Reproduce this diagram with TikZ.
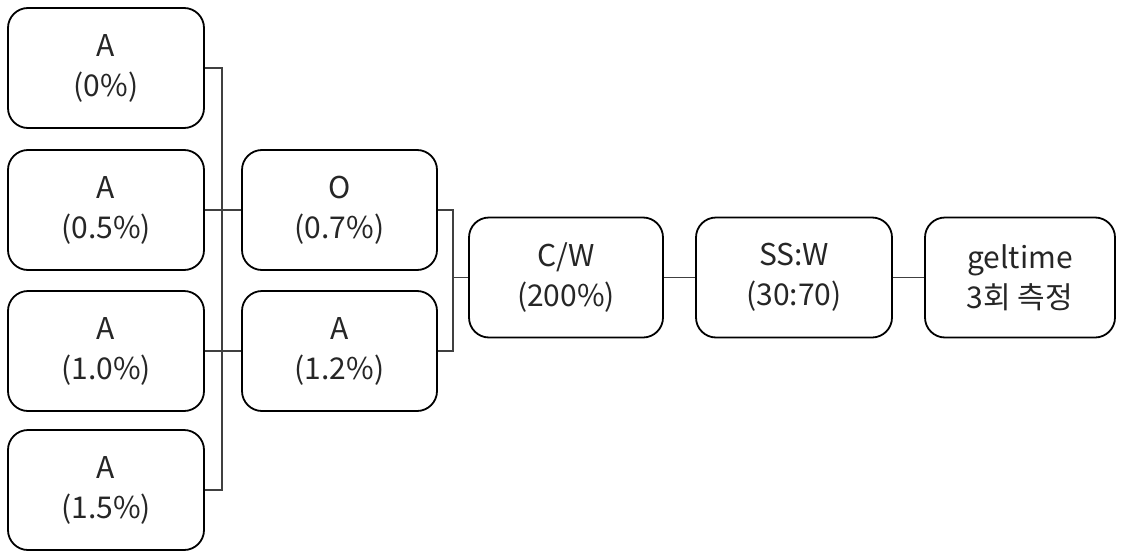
\documentclass[tikz,border=0pt]{standalone}
\usepackage{fontspec}
\setmainfont{Noto Sans CJK KR}
\begin{document}
\begin{tikzpicture}[x=1pt,y=-1pt,
  box/.style={draw=black, line width=1.8pt, rounded corners=20pt, fill=white,
    align=center, inner sep=0pt, text=black!85,
    font=\fontsize{30}{40}\selectfont},
  wide/.style={minimum width=196pt, minimum height=120pt},
  conn/.style={draw=black!75, line width=1.1pt}]
\useasboundingbox (0,0) rectangle (1123,551);
% left column
\node[box,wide] (a1) at (106,68) {A\\(0\%)};
\node[box,wide] (a2) at (106,210) {A\\(0.5\%)};
\node[box,wide] (a3) at (106,351) {A\\(1.0\%)};
\node[box,wide] (a4) at (106,490) {A\\(1.5\%)};
% middle column
\node[box,wide,minimum width=195pt] (o) at (339.5,210) {O\\(0.7\%)};
\node[box,wide,minimum width=195pt] (a12) at (339.5,351) {A\\(1.2\%)};
% right chain
\node[box,wide,minimum width=194pt] (cw) at (566,277.5) {C/W\\(200\%)};
\node[box,wide,minimum width=196pt] (ss) at (794,277.5) {SS:W\\(30:70)};
\node[box,wide,minimum width=190pt] (gt) at (1020,277.5) {geltime\\3회 측정};
% bus coordinates
\coordinate (b1) at (222,0);
\coordinate (b2) at (453,0);
% connectors
\draw[conn] (a1.east) -| (b1 |- a4.east) -- (a4.east);
\draw[conn] (a2.east) -- (o.west);
\draw[conn] (a3.east) -- (a12.west);
\draw[conn] (o.east) -| (b2 |- a12.east) -- (a12.east);
\draw[conn] (b2 |- cw.west) -- (cw.west);
\draw[conn] (cw.east) -- (ss.west);
\draw[conn] (ss.east) -- (gt.west);
\end{tikzpicture}
\end{document}
